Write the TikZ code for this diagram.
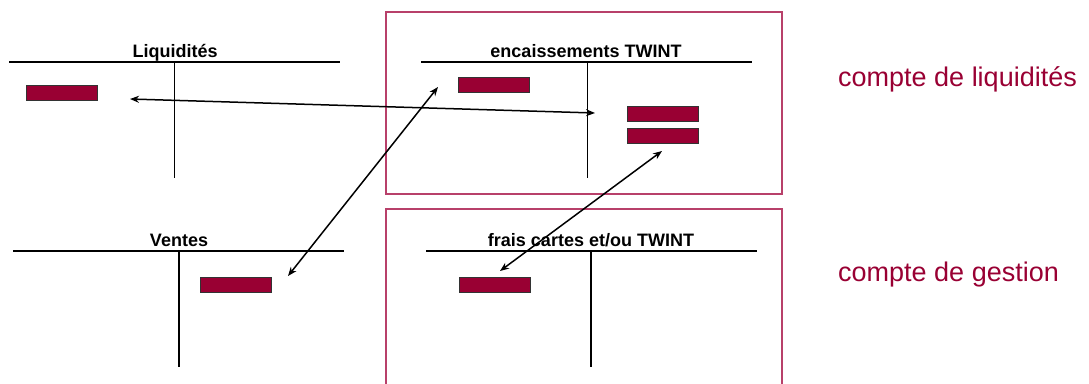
\documentclass[tikz,border=0pt]{standalone}
\usepackage{fontspec}
\setmainfont{Liberation Sans}
\usetikzlibrary{arrows.meta}
\definecolor{bordeaux}{HTML}{990033}
\definecolor{framecol}{HTML}{B8406A}
\tikzset{
  tline/.style={line width=1.5pt, black},
  tvert/.style={line width=1pt, black},
  entry/.style={draw=black!80, line width=0.8pt, fill=bordeaux, minimum width=71pt, minimum height=15pt, inner sep=0pt, anchor=north west},
  ttitle/.style={font=\fontsize{18}{20}\selectfont\bfseries, inner sep=0pt, anchor=base},
  sidelabel/.style={font=\fontsize{27}{30}\selectfont, text=bordeaux, inner sep=0pt, anchor=base west},
  frame/.style={draw=framecol, line width=1.3pt},
  link/.style={{Stealth[length=9pt,width=7pt]}-{Stealth[length=9pt,width=7pt]}, line width=1.5pt, black}
}
\begin{document}
\begin{tikzpicture}[x=1pt,y=-1pt]
\useasboundingbox (0,0) rectangle (1089,383);
% frames
\draw[frame] (386,12) rectangle (782,194);
\draw[frame] (386,390) -- (386,209) -- (782,209) -- (782,390);
% Liquidites
\node[ttitle] (tliq) at (175,57) {Liquidités};
\draw[tline] (9,62) -- (340,62);
\draw[tvert] (174,62) -- (174,178);
\node[entry] (rliq) at (26,85) {};
% encaissements TWINT
\node[ttitle] (tenc) at (586,57) {encaissements TWINT};
\draw[tline] (421,62) -- (752,62);
\draw[tvert] (587,62) -- (587,178);
\node[entry] (renc1) at (458,77) {};
\node[entry] (renc2) at (627,106) {};
\node[entry] (renc3) at (627,128) {};
% Ventes
\node[ttitle] (tven) at (179,246) {Ventes};
\draw[tline] (13,251) -- (344,251);
\draw[tline] (179,251) -- (179,367);
\node[entry] (rven) at (200,277) {};
% frais
\node[ttitle] (tfra) at (591,246) {frais cartes et/ou TWINT};
\draw[tline] (426,251) -- (757,251);
\draw[tline] (591,251) -- (591,367);
\node[entry] (rfra) at (459,277) {};
% side labels
\node[sidelabel] (lliq) at (838,86) {compte de liquidités};
\node[sidelabel] (lges) at (838,281) {compte de gestion};
% arrow end points
\coordinate (a1) at (130,99);
\coordinate (b1) at (595,113);
\coordinate (a2) at (438,87);
\coordinate (b2) at (288,276);
\coordinate (a3) at (662,151);
\coordinate (b3) at (500,271);
\draw[link] (a1) -- (b1);
\draw[link] (a2) -- (b2);
\draw[link] (a3) -- (b3);
\end{tikzpicture}
\end{document}
